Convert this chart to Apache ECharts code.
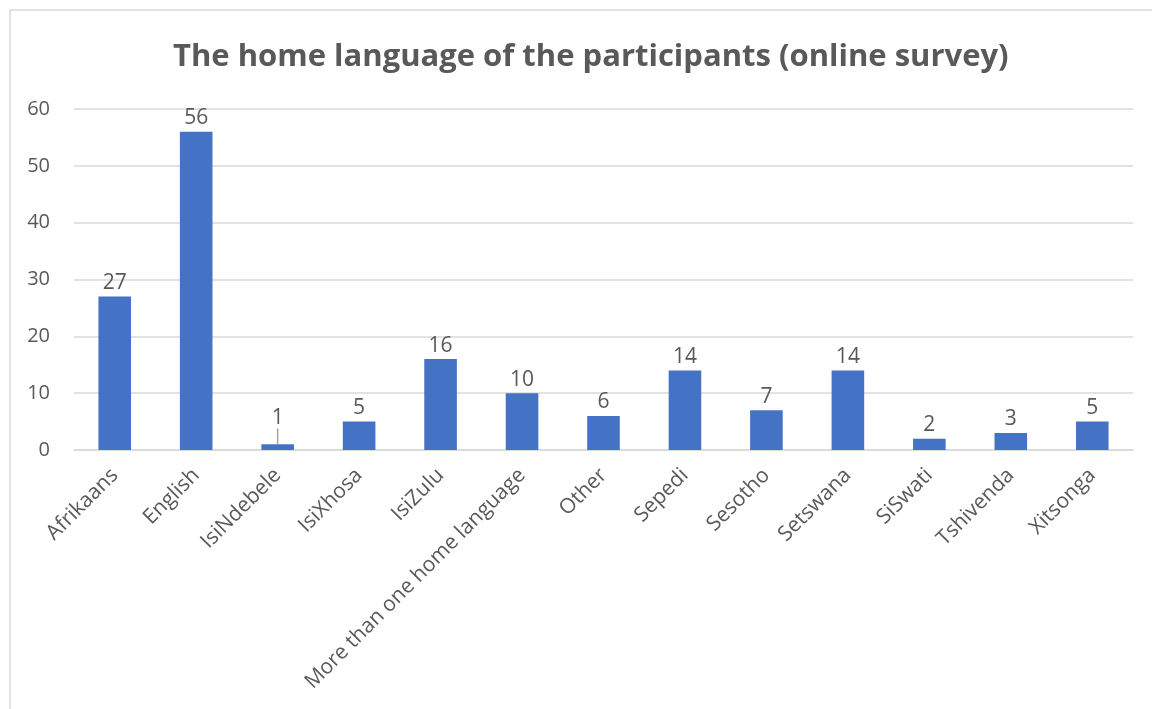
<!DOCTYPE html>
<html>
<head>
<meta charset="utf-8">
<script src="https://cdn.jsdelivr.net/npm/echarts@6/dist/echarts.min.js"></script>
<style>
  html, body { margin: 0; padding: 0; background: #fff; }
  #chart { width: 1152px; height: 709px; }
</style>
</head>
<body>
<div id="chart"></div>
<script>
// Home languages reported by survey participants
const languages = ['Afrikaans', 'English', 'IsiNdebele', 'IsiXhosa', 'IsiZulu',
  'More than one home language', 'Other', 'Sepedi', 'Sesotho', 'Setswana',
  'SiSwati', 'Tshivenda', 'Xitsonga'];
const participants = [27, 56, 1, 5, 16, 10, 6, 14, 7, 14, 2, 3, 5];
const yTicks = { min: 0, max: 60, step: 10 };

const textColor = '#595959';
const font = '"Open Sans", "Liberation Sans", sans-serif';

// the label of the smallest bar is lifted and tied to its bar by a leader line
const liftedIndex = 2;
const barData = participants.map((v, i) =>
  i === liftedIndex ? { value: v, labelLine: { show: true } } : v);

const chart = echarts.init(document.getElementById('chart'));
chart.setOption({
  backgroundColor: '#ffffff',
  animation: false,
  title: {
    text: 'The home language of the participants (online survey)',
    left: 168,
    top: 37,
    textStyle: { fontFamily: font, fontSize: 31, fontWeight: 'bold', color: textColor }
  },
  graphic: [{
    type: 'rect',
    shape: { x: 10, y: 10, width: 1300, height: 900 },
    style: { fill: null, stroke: '#d9d9d9', lineWidth: 1.5 },
    silent: true,
    z: -1
  }],
  grid: { left: 74, right: 19, top: 109, bottom: 259, containLabel: false },
  xAxis: {
    type: 'category',
    data: languages,
    axisLine: { lineStyle: { color: '#d9d9d9', width: 1.5 } },
    axisTick: { show: false },
    axisLabel: {
      rotate: 45,
      interval: 0,
      margin: 22,
      fontFamily: font,
      fontSize: 21,
      color: textColor
    }
  },
  yAxis: {
    type: 'value',
    min: yTicks.min,
    max: yTicks.max,
    interval: yTicks.step,
    axisLine: { show: false },
    axisTick: { show: false },
    splitLine: { lineStyle: { color: '#d9d9d9', width: 1.5 } },
    axisLabel: { fontFamily: font, fontSize: 20, color: textColor, margin: 24 }
  },
  series: [{
    type: 'bar',
    data: barData,
    barWidth: '40%',
    itemStyle: { color: '#4472C4' },
    label: {
      show: true,
      position: 'top',
      distance: 3,
      fontFamily: font,
      fontSize: 21,
      color: textColor
    },
    labelLine: { show: false, lineStyle: { color: '#a6a6a6', width: 1.5 } },
    labelLayout: function (p) {
      if (p.dataIndex === liftedIndex) return { dy: -13 };
      return {};
    }
  }]
});
</script>
</body>
</html>
